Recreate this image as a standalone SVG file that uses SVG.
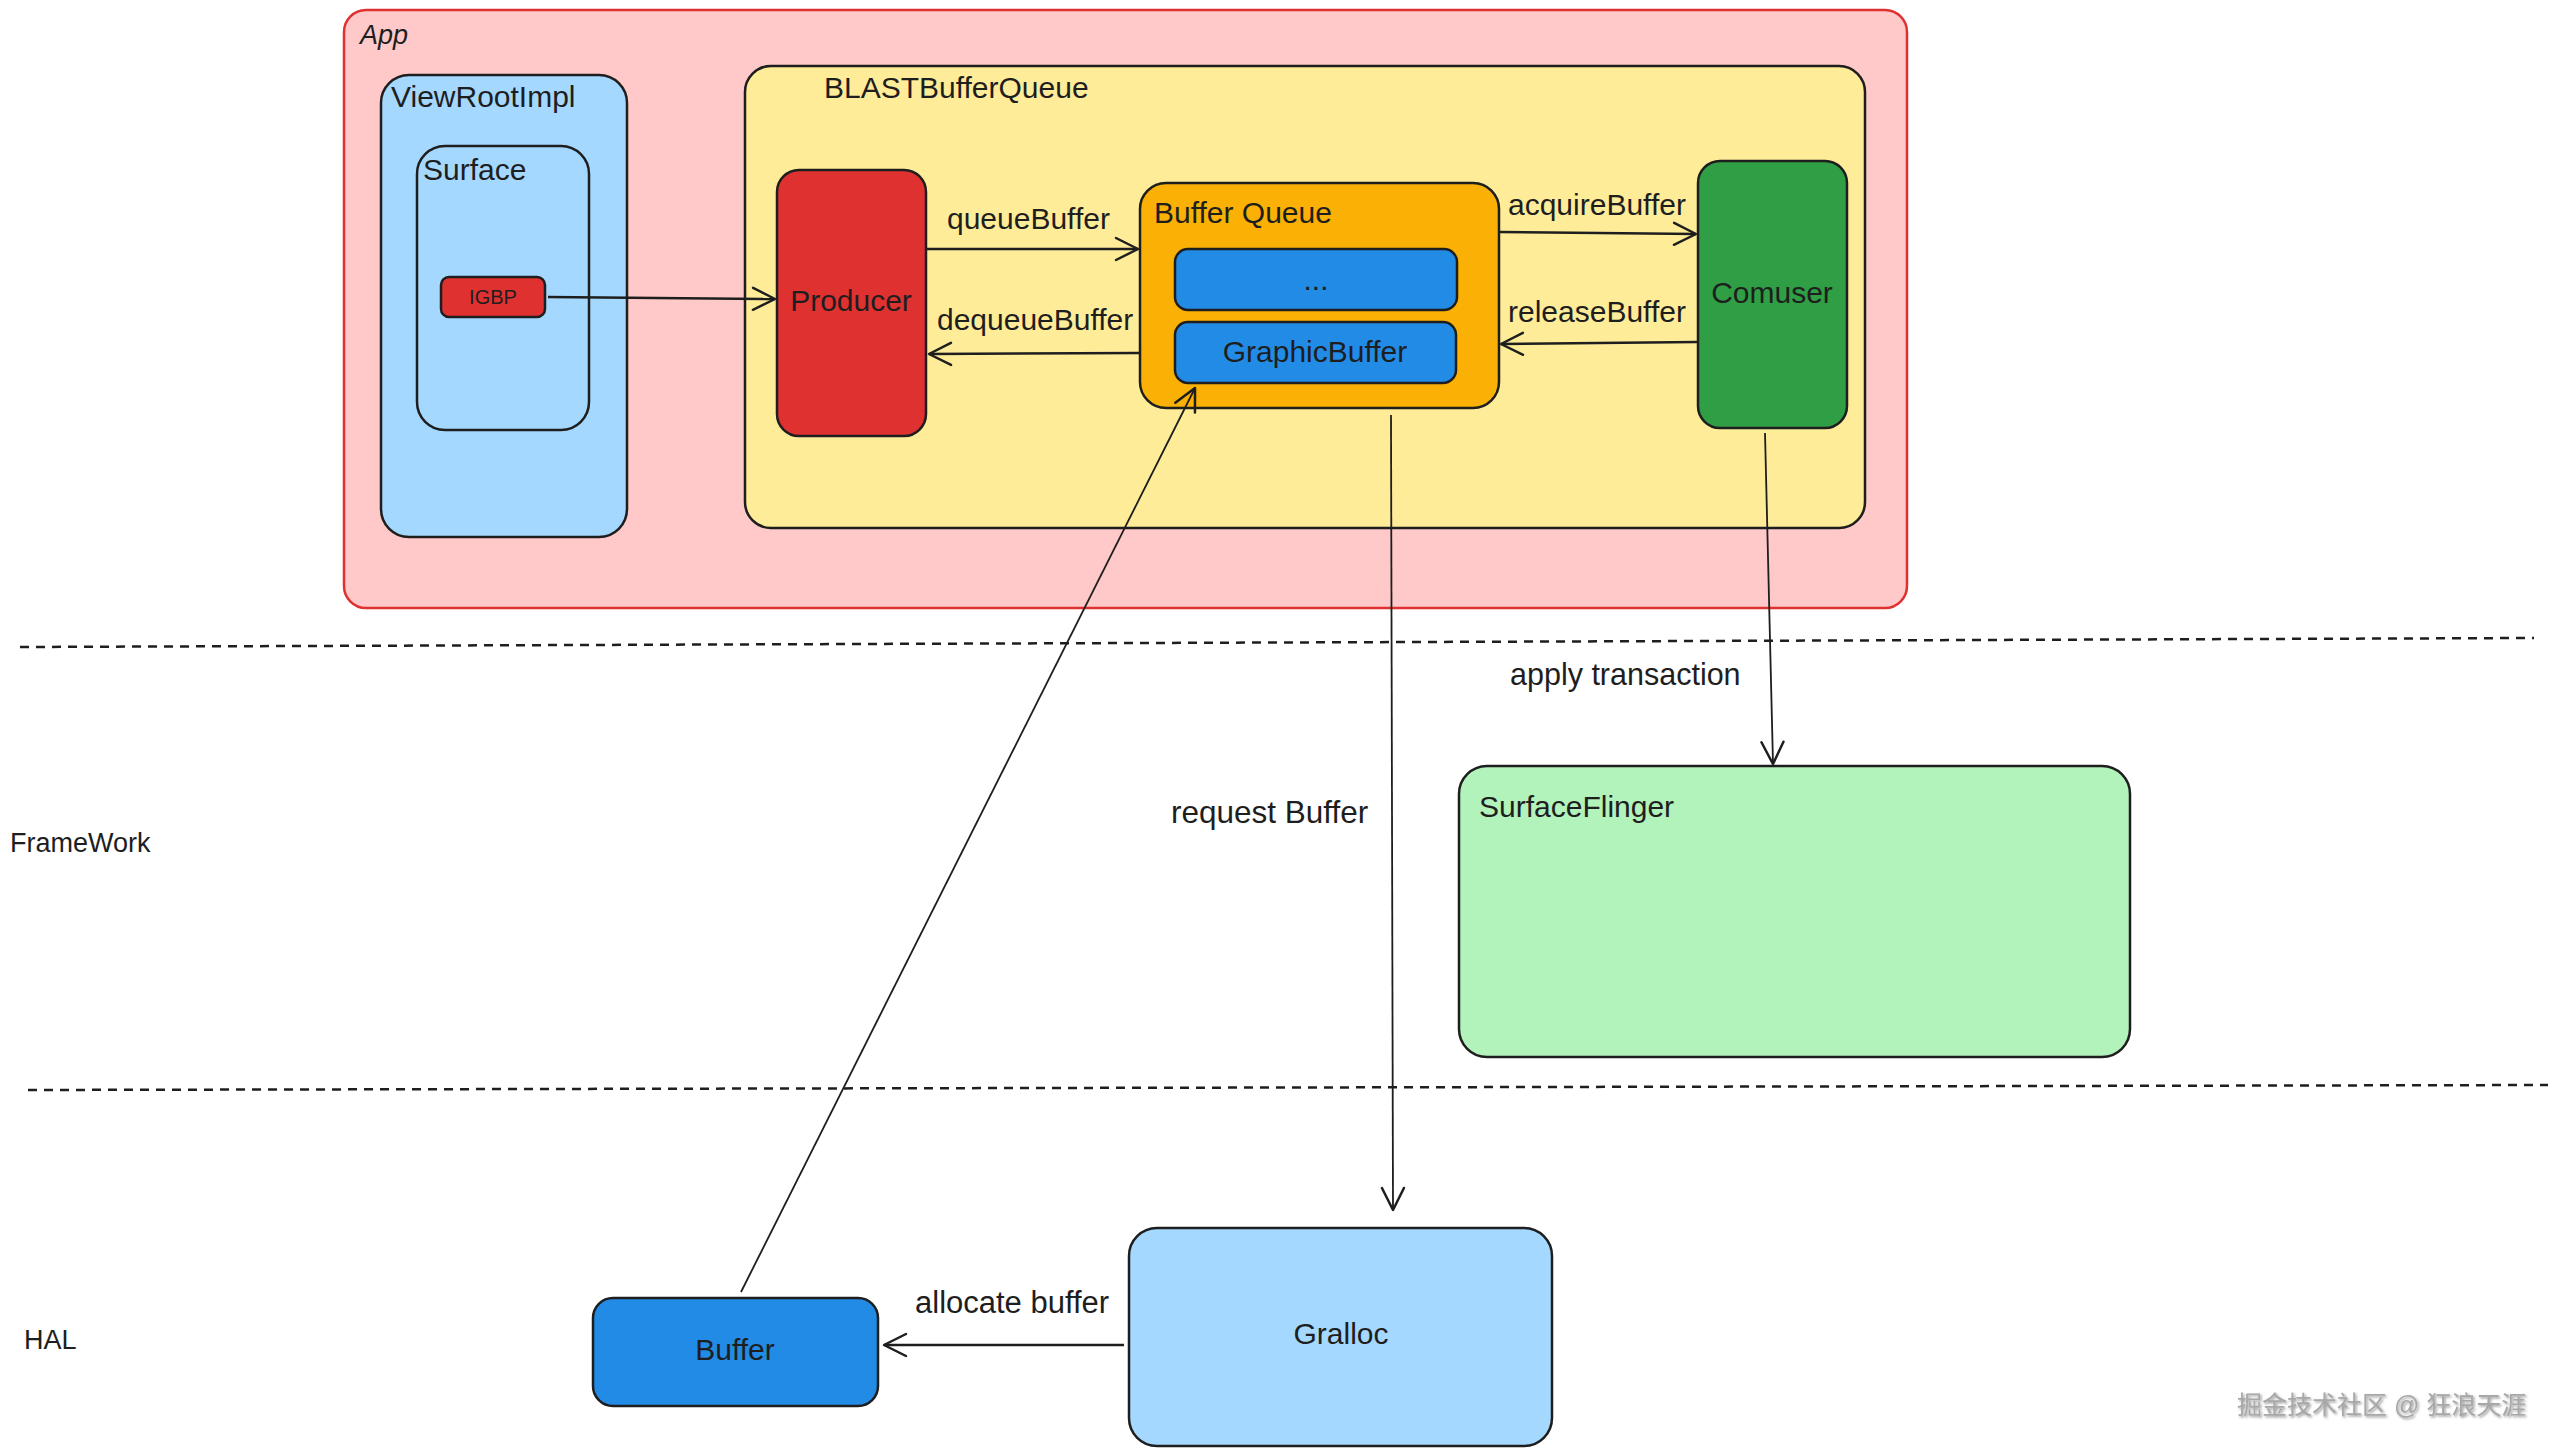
<svg xmlns="http://www.w3.org/2000/svg" width="2558" height="1455" viewBox="0 0 2558 1455">
<defs>
<marker id="arr" markerUnits="userSpaceOnUse" markerWidth="30" markerHeight="30" viewBox="0 0 30 30" refX="28" refY="15" orient="auto">
<path d="M6,4 L28,15 L6,26" fill="none" stroke="#1e1e1e" stroke-width="2.5" stroke-linecap="round" stroke-linejoin="round"/>
</marker>
<filter id="emboss" x="-5%" y="-20%" width="110%" height="150%">
<feDropShadow dx="1.5" dy="1.5" stdDeviation="0.8" flood-color="#555555" flood-opacity="0.6"/>
</filter>
</defs>
<style>
.box{stroke:#1e1e1e;stroke-width:2.5}
.t{font-family:"Liberation Sans",Arial,sans-serif;font-size:30px;fill:#1e1e1e}
.c{text-anchor:middle}
.ln{fill:none;stroke:#1e1e1e;stroke-width:2.5}
.thin{fill:none;stroke:#1e1e1e;stroke-width:1.8}
.dash{fill:none;stroke:#1e1e1e;stroke-width:2.5;stroke-dasharray:9 7}
</style>
<rect width="2558" height="1455" fill="#ffffff"/>

<g id="layers">
<line class="dash" x1="20" y1="647" x2="2534" y2="638"/>
<line class="dash" x1="28" y1="1090" x2="2548" y2="1085"/>
<text class="t" x="10" y="852" style="font-size:27px">FrameWork</text>
<text class="t" x="24" y="1349" style="font-size:27px">HAL</text>
</g>

<g id="app">
<rect x="344" y="10" width="1563" height="598" rx="22" fill="#ffc9c9" stroke="#e03131" stroke-width="2.5"/>
<text class="t" x="360" y="44" style="font-size:27px;font-style:italic">App</text>
</g>

<g id="viewrootimpl">
<rect class="box" x="381" y="75" width="246" height="462" rx="28" fill="#a5d8ff"/>
<text class="t" x="391" y="107">ViewRootImpl</text>
</g>

<g id="surface">
<rect class="box" x="417" y="146" width="172" height="284" rx="28" fill="#a5d8ff"/>
<text class="t" x="423" y="180">Surface</text>
</g>

<g id="igbp">
<rect class="box" x="441" y="277" width="104" height="40" rx="8" fill="#e03131"/>
<text class="t c" x="493" y="304" style="font-size:20px">IGBP</text>
</g>

<g id="blastbufferqueue">
<rect class="box" x="745" y="66" width="1120" height="462" rx="26" fill="#ffec99"/>
<text class="t" x="824" y="98">BLASTBufferQueue</text>
</g>

<g id="producer">
<rect class="box" x="777" y="170" width="149" height="266" rx="22" fill="#e03131"/>
<text class="t c" x="851" y="311">Producer</text>
</g>

<g id="bufferqueue">
<rect class="box" x="1140" y="183" width="359" height="225" rx="26" fill="#fab005"/>
<text class="t" x="1154" y="223">Buffer Queue</text>
</g>

<g id="slot-more">
<rect class="box" x="1175" y="249" width="282" height="61" rx="13" fill="#228be6"/>
<text class="t c" x="1316" y="290">...</text>
</g>

<g id="graphicbuffer">
<rect class="box" x="1175" y="322" width="281" height="61" rx="13" fill="#228be6"/>
<text class="t c" x="1315" y="362">GraphicBuffer</text>
</g>

<g id="comuser">
<rect class="box" x="1698" y="161" width="149" height="267" rx="22" fill="#2f9e44"/>
<text class="t c" x="1772" y="303">Comuser</text>
</g>

<g id="surfaceflinger">
<rect class="box" x="1459" y="766" width="671" height="291" rx="28" fill="#b2f2bb"/>
<text class="t" x="1479" y="817">SurfaceFlinger</text>
</g>

<g id="gralloc">
<rect class="box" x="1129" y="1228" width="423" height="218" rx="28" fill="#a5d8ff"/>
<text class="t c" x="1341" y="1344">Gralloc</text>
</g>

<g id="buffer">
<rect class="box" x="593" y="1298" width="285" height="108" rx="20" fill="#228be6"/>
<text class="t c" x="735" y="1360">Buffer</text>
</g>

<g id="connectors">
<line class="ln" x1="548" y1="297" x2="775" y2="299" marker-end="url(#arr)"/>
<line class="ln" x1="926" y1="249" x2="1138" y2="249" marker-end="url(#arr)"/>
<line class="ln" x1="1139" y1="353" x2="929" y2="354" marker-end="url(#arr)"/>
<line class="ln" x1="1500" y1="232" x2="1696" y2="234" marker-end="url(#arr)"/>
<line class="ln" x1="1697" y1="342" x2="1501" y2="344" marker-end="url(#arr)"/>
<line class="thin" x1="1391" y1="415" x2="1393" y2="1210" marker-end="url(#arr)"/>
<line class="thin" x1="1765" y1="433" x2="1773" y2="764" marker-end="url(#arr)"/>
<line class="thin" x1="741" y1="1292" x2="1195" y2="388" marker-end="url(#arr)"/>
<line class="ln" x1="1124" y1="1345" x2="884" y2="1345" marker-end="url(#arr)"/>
<text class="t" x="947" y="229">queueBuffer</text>
<text class="t" x="937" y="330">dequeueBuffer</text>
<text class="t" x="1508" y="215">acquireBuffer</text>
<text class="t" x="1508" y="322">releaseBuffer</text>
<text class="t" x="1510" y="685" style="font-size:30.5px">apply transaction</text>
<text class="t" x="1171" y="823" style="font-size:31.5px">request Buffer</text>
<text class="t" x="915" y="1313" style="font-size:31px">allocate buffer</text>
</g>

<text x="2237" y="1414" font-family="'Liberation Sans','Noto Sans CJK SC',sans-serif" font-size="25" fill="#a8a8a8" filter="url(#emboss)">掘金技术社区 @ 狂浪天涯</text>
</svg>
